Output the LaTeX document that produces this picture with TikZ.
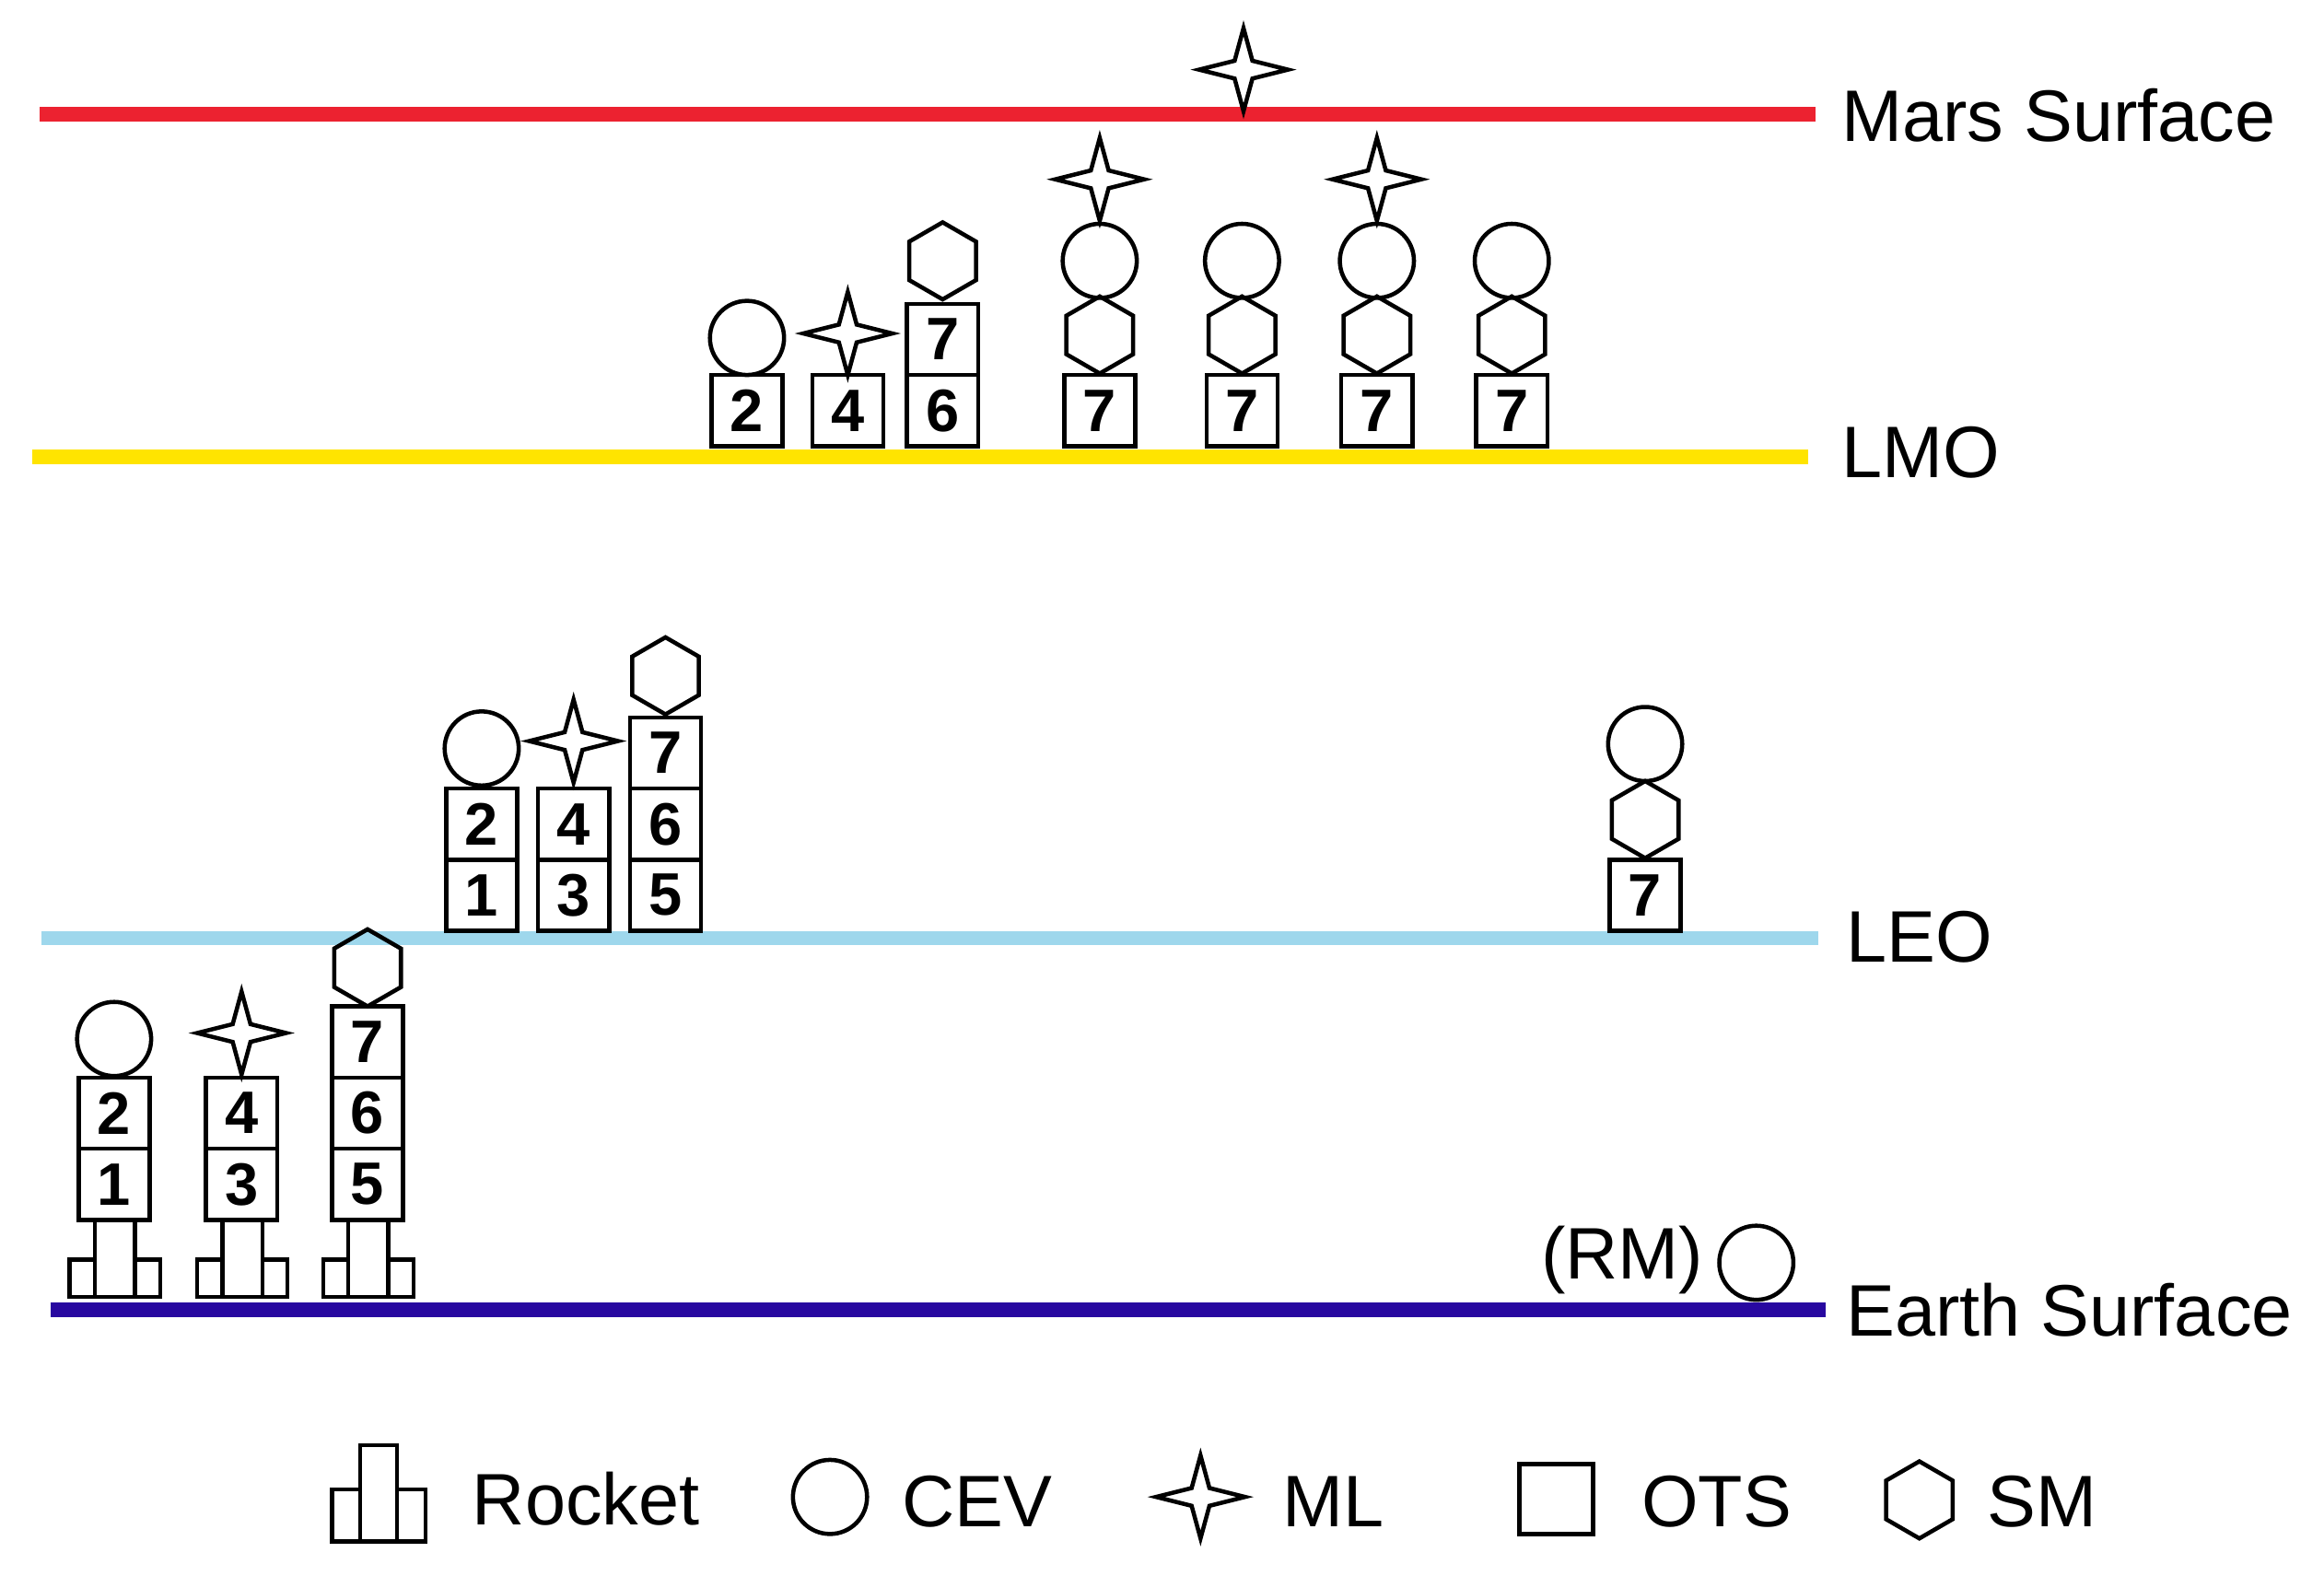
\documentclass[tikz,border=0pt]{standalone}
\usepackage{fontspec}
\setmainfont{Liberation Sans}
\newcommand{\myOts}[3]{\draw[shp] (#1-24,#2) rectangle (#1+24,#2+48); \node[dig] at (#1,#2+24) {#3};}
\newcommand{\myCev}[2]{\draw[shp] (#1,#2) circle[radius=25];}
\newcommand{\myHex}[2]{\draw[shp] (#1,#2) ++(0,-26) -- ++(22.5,13) -- ++(0,26) -- ++(-22.5,13) -- ++(-22.5,-13) -- ++(0,-26) -- cycle;}
\newcommand{\myStar}[2]{\draw[shp] (#1,#2-28) -- (#1+6,#2-6) -- (#1+30,#2) -- (#1+6,#2+6) -- (#1,#2+28) -- (#1-6,#2+6) -- (#1-30,#2) -- (#1-6,#2-6) -- cycle;}
\newcommand{\myRocket}[2]{\draw[shp] (#1-13,#2) rectangle (#1+14,#2+52); \draw[shp] (#1-30,#2+27) rectangle (#1-13,#2+52); \draw[shp] (#1+14,#2+27) rectangle (#1+31,#2+52);}
\begin{document}
\begin{tikzpicture}[x=0.01cm,y=-0.01cm,
  shp/.style={line width=0.8pt,black},
  dig/.style={font=\bfseries\fontsize{11.5}{12}\selectfont},
  lbl/.style={font=\fontsize{14}{16}\selectfont,anchor=west,inner sep=0}]
\useasboundingbox (0,0) rectangle (1568,1063);
% orbit lines
\definecolor{marsc}{RGB}{236,34,48}
\definecolor{lmoc}{RGB}{255,228,0}
\definecolor{leoc}{RGB}{158,215,236}
\definecolor{earc}{RGB}{40,8,160}
\draw[marsc,line width=2.8pt] (27,77) -- (1225,77);
\draw[lmoc,line width=2.8pt] (22,308) -- (1220,308);
\draw[leoc,line width=2.8pt] (28,633) -- (1227,633);
\draw[earc,line width=2.8pt] (34,884) -- (1232,884);
\node[lbl] (mars) at (1242,78) {Mars Surface};
\node[lbl] (lmo) at (1242,305) {LMO};
\node[lbl] (leo) at (1245,632) {LEO};
\node[lbl] (earth) at (1245,884) {Earth Surface};
% Earth stacks
\myRocket{77}{823} \myOts{77}{775}{1} \myOts{77}{727}{2} \myCev{77}{701}
\myRocket{163}{823} \myOts{163}{775}{3} \myOts{163}{727}{4} \myStar{163}{697}
\myRocket{248}{823} \myOts{248}{775}{5} \myOts{248}{727}{6} \myOts{248}{679}{7} \myHex{248}{653}
% LEO
\myOts{325}{580}{1} \myOts{325}{532}{2} \myCev{325}{505}
\myOts{387}{580}{3} \myOts{387}{532}{4} \myStar{387}{500}
\myOts{449}{580}{5} \myOts{449}{532}{6} \myOts{449}{484}{7} \myHex{449}{456}
\myOts{1110}{580}{7} \myHex{1110}{553} \myCev{1110}{502}
% LMO
\myOts{504}{253}{2} \myCev{504}{228}
\myOts{572}{253}{4} \myStar{572}{225}
\myOts{636}{253}{6} \myOts{636}{205}{7} \myHex{636}{176}
\myOts{742}{253}{7} \myHex{742}{226} \myCev{742}{176} \myStar{742}{121}
\myOts{838}{253}{7} \myHex{838}{226} \myCev{838}{176}
\myOts{929}{253}{7} \myHex{929}{226} \myCev{929}{176} \myStar{929}{121}
\myOts{1020}{253}{7} \myHex{1020}{226} \myCev{1020}{176}
% Mars
\myStar{839}{47}
% RM
\node[lbl,anchor=east] (rm) at (1150,850) {(RM)};
\myCev{1185}{852}
% legend
\draw[shp] (243,975) rectangle (268,1040);
\draw[shp] (224,1005) rectangle (243,1040);
\draw[shp] (268,1005) rectangle (287,1040);
\node[lbl] (lr) at (318,1011) {Rocket};
\myCev{560}{1010}
\node[lbl] (lc) at (608,1013) {CEV};
\myStar{810}{1010}
\node[lbl] (lm) at (865,1013) {ML};
\draw[shp] (1025,988) rectangle (1075,1035);
\node[lbl] (lo) at (1107,1013) {OTS};
\myHex{1295}{1012}
\node[lbl] (ls) at (1340,1013) {SM};
\end{tikzpicture}
\end{document}
